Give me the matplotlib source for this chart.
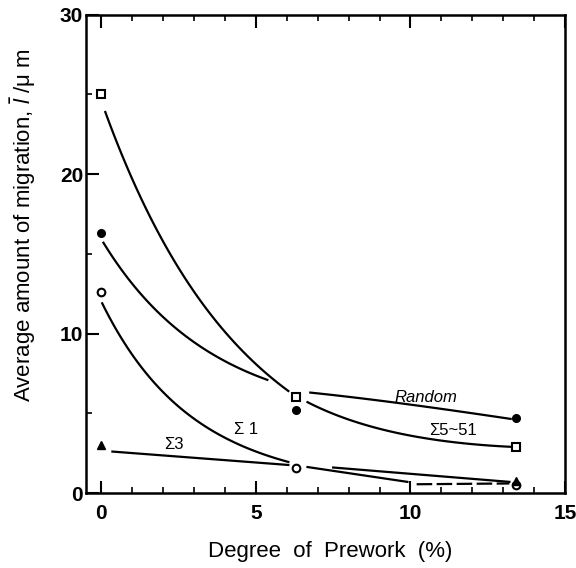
import numpy as np
import matplotlib
matplotlib.use("Agg")
import matplotlib.pyplot as plt
from matplotlib.ticker import MultipleLocator

plt.rcParams['font.family'] = ['Liberation Sans', 'DejaVu Sans']
plt.rcParams['mathtext.fontset'] = 'custom'
plt.rcParams['mathtext.it'] = 'Liberation Sans:italic'

# measured points (degree of prework %, average migration um)
prework = [0, 6.3, 13.4]
sigma5_51 = [25.0, 6.0, 2.9]      # open squares
random_gb = [16.3, 5.2, 4.7]      # filled circles
sigma1 = [12.6, 1.6, 0.5]         # open circles
sigma3_x = [0, 13.4]
sigma3 = [3.0, 0.75]              # filled triangles

# hand drawn fit curves (knots per segment)
sq_seg1_x, sq_seg1_y = [0.13, 3.46, 6.05], [23.9, 11.4, 6.4]
sq_seg2_x, sq_seg2_y = [6.67, 10.0, 13.24], [5.7, 3.6, 2.9]
rnd_seg1_x, rnd_seg1_y = [0.07, 4.17, 5.37], [15.7, 8.1, 7.1]
rnd_seg2_x, rnd_seg2_y = [6.76, 10.55, 13.24], [6.3, 5.4, 4.65]
s1_seg1_x, s1_seg1_y = [0.03, 4.17, 6.05], [11.9, 3.3, 1.95]
s1_seg2_x, s1_seg2_y = [6.67, 9.9], [1.63, 0.7]
s1_seg3_x, s1_seg3_y = [10.2, 13.2], [0.55, 0.6]
s3_seg1_x, s3_seg1_y = [0.36, 6.05], [2.6, 1.76]
s3_seg2_x, s3_seg2_y = [7.5, 13.2], [1.6, 0.7]

labels = ["Random", "\u03a35~51", "\u03a3 1", "\u03a33"]
label_x = [10.49, 11.36, 4.69, 2.36]
label_y = [5.97, 3.9, 3.96, 3.02]


def draw_seg(ax, xs, ys, **kw):
    # smooth curve through the knots (quadratic in log space)
    xs = np.array(xs)
    ys = np.array(ys)
    if len(xs) > 2:
        c = np.polyfit(xs, np.log(ys), len(xs) - 1)
        xx = np.linspace(xs[0], xs[-1], 120)
        ax.plot(xx, np.exp(np.polyval(c, xx)), color='black', lw=1.6, **kw)
    else:
        ax.plot(xs, ys, color='black', lw=1.6, **kw)


fig = plt.figure(figsize=(5.76, 5.68), dpi=100)
ax = fig.add_axes([0.149, 0.132, 0.832, 0.842])

draw_seg(ax, sq_seg1_x, sq_seg1_y)
draw_seg(ax, sq_seg2_x, sq_seg2_y)
draw_seg(ax, rnd_seg1_x, rnd_seg1_y)
draw_seg(ax, rnd_seg2_x, rnd_seg2_y)
draw_seg(ax, s1_seg1_x, s1_seg1_y)
draw_seg(ax, s1_seg2_x, s1_seg2_y)
draw_seg(ax, s1_seg3_x, s1_seg3_y, linestyle=(0, (7, 2)))
draw_seg(ax, s3_seg1_x, s3_seg1_y)
draw_seg(ax, s3_seg2_x, s3_seg2_y)

ax.plot(prework, sigma5_51, 's', ms=5.5, mfc='white', mec='black', mew=1.5, ls='none')
ax.plot(prework, random_gb, 'o', ms=5.5, mfc='black', mec='black', ls='none')
ax.plot(prework, sigma1, 'o', ms=5.5, mfc='white', mec='black', mew=1.5, ls='none')
ax.plot(sigma3_x, sigma3, '^', ms=6, mfc='black', mec='black', ls='none')

ax.text(label_x[0], label_y[0], labels[0], fontsize=12, style='italic',
        ha='center', va='center')
for i in range(1, 4):
    ax.text(label_x[i], label_y[i], labels[i], fontsize=12,
            ha='center', va='center')

ax.set_xlim(-0.5, 15)
ax.set_ylim(0, 30)
ax.set_xticks([0, 5, 10, 15])
ax.set_yticks([0, 10, 20, 30])
ax.xaxis.set_minor_locator(MultipleLocator(1))
ax.yaxis.set_minor_locator(MultipleLocator(5))
ax.tick_params(which='major', direction='in', length=9, width=1.5,
               labelsize=15, top=True, right=False)
ax.tick_params(which='minor', direction='in', length=4, width=1.2,
               top=True, right=False)
ax.tick_params(axis='x', pad=8)
ax.tick_params(axis='y', pad=2)
for lab in ax.get_xticklabels() + ax.get_yticklabels():
    lab.set_fontweight('bold')
for sp in ax.spines.values():
    sp.set_linewidth(1.8)

ax.set_xlabel("Degree  of  Prework  (%)", fontsize=16)
ax.set_ylabel("Average amount of migration, $\\bar{l}$ /\u03bc m", fontsize=16)
ax.xaxis.set_label_coords(0.51, -0.1)
ax.yaxis.set_label_coords(-0.1, 0.56)

fig.savefig("out.png", dpi=100, facecolor='white')
